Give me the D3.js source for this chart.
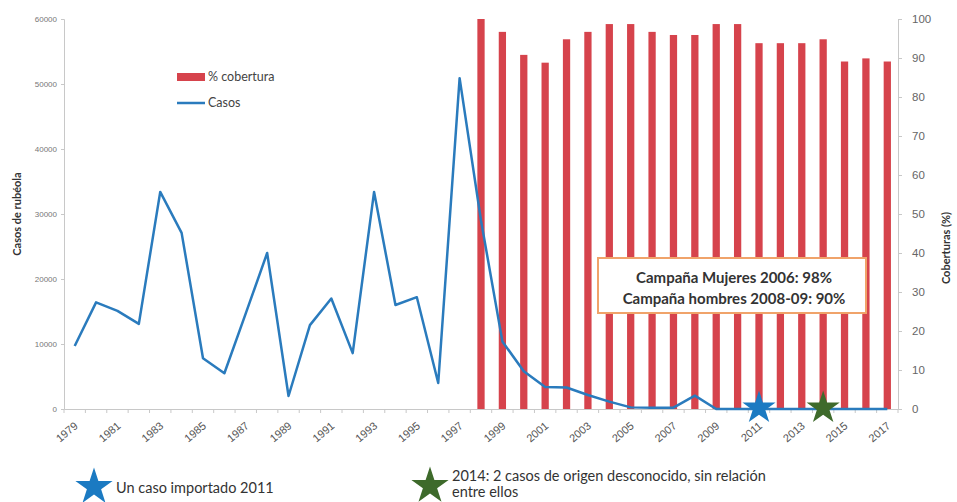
<!DOCTYPE html>
<html>
<head>
<meta charset="utf-8">
<script src="https://cdn.jsdelivr.net/npm/d3@7"></script>
<style>
  body { margin: 0; background: #fff; }
  svg { font-family: Lato, "Open Sans", sans-serif; }
</style>
</head>
<body>
<div id="chart"></div>
<script>
// years on the x axis
const years = d3.range(1979, 2018);
const yearLabels = years.filter(y => y % 2 === 1);

// rubella cases per year (1979-2017)
const cases = [9700, 16400, 15100, 13100, 33400, 27100, 7800, 5500, 14700, 24000,
  2000, 12900, 17000, 8600, 33400, 16000, 17200, 4000, 50900, 29000,
  10400, 5800, 3400, 3300, 2150, 1130, 250, 200, 200, 2050,
  0, 0, 1, 0, 0, 2, 0, 0, 0];

// vaccination coverage (%) 1998-2017
const coverageYears = d3.range(1998, 2018);
const coverage = [100, 96.7, 90.8, 88.8, 94.8, 96.7, 98.7, 98.7, 96.7, 95.9,
  95.9, 98.7, 98.7, 93.8, 93.8, 93.8, 94.8, 89.1, 89.9, 89.1];

const leftTicks = [0, 10000, 20000, 30000, 40000, 50000, 60000];
const rightTicks = [0, 10, 20, 30, 40, 50, 60, 70, 80, 90, 100];

const stars = [
  { year: 2011, color: "#1b7ac2", label: ["Un caso importado 2011"] },
  { year: 2014, color: "#3e6a2b", label: ["2014: 2 casos de origen desconocido, sin relación", "entre ellos"] }
];

const W = 957, H = 502;
const margin = { left: 64, right: 59, top: 19, bottom: 93 };
const innerW = W - margin.left - margin.right;
const innerH = H - margin.top - margin.bottom;

const svg = d3.select("#chart").append("svg")
  .attr("width", W).attr("height", H);

const g = svg.append("g").attr("transform", `translate(${margin.left},${margin.top})`);

const x = d3.scaleBand().domain(years).range([0, innerW]).padding(0);
const yL = d3.scaleLinear().domain([0, 60000]).range([innerH, 0]);
const yR = d3.scaleLinear().domain([0, 100]).range([innerH, 0]);
const cx = d => x(d) + x.bandwidth() / 2;

// left axis
const axL = g.append("g")
  .call(d3.axisLeft(yL).tickValues(leftTicks).tickFormat(d3.format("d")).tickSize(3).tickPadding(4));
axL.select(".domain").attr("stroke", "#c8c8c8");
axL.selectAll(".tick line").attr("stroke", "#c8c8c8");
axL.selectAll("text").attr("fill", "#777").attr("font-size", 8);

// right axis
const axR = g.append("g").attr("transform", `translate(${innerW},0)`)
  .call(d3.axisRight(yR).tickValues(rightTicks).tickSize(4).tickPadding(10));
axR.select(".domain").attr("stroke", "#c8c8c8");
axR.selectAll(".tick line").attr("stroke", "#c8c8c8");
axR.selectAll("text").attr("fill", "#666").attr("font-size", 11.5);

// bars
const barW = x.bandwidth() * 0.34;
g.append("g").selectAll("rect")
  .data(coverageYears.map((yr, i) => ({ yr, v: coverage[i] })))
  .join("rect")
  .attr("x", d => cx(d.yr) - barW / 2)
  .attr("y", d => yR(d.v))
  .attr("width", barW)
  .attr("height", d => innerH - yR(d.v))
  .attr("fill", "#d6434c");

// x axis
const axX = g.append("g").attr("transform", `translate(0,${innerH})`)
  .call(d3.axisBottom(x).tickValues([]).tickSize(0));
axX.select(".domain").attr("stroke", "#c8c8c8");
axX.selectAll("line.yt")
  .data(years.concat([2018]))
  .join("line")
  .attr("class", "yt")
  .attr("x1", (d, i) => i * x.bandwidth()).attr("x2", (d, i) => i * x.bandwidth())
  .attr("y1", 0).attr("y2", 4)
  .attr("stroke", "#c8c8c8");
axX.selectAll("text.yl")
  .data(yearLabels)
  .join("text")
  .attr("class", "yl")
  .attr("transform", d => `translate(${cx(d) + 4},${18}) rotate(-40)`)
  .attr("text-anchor", "end")
  .attr("fill", "#555")
  .attr("font-size", 11)
  .text(d => d);

// cases line
const line = d3.line().x((d, i) => cx(years[i])).y(d => yL(d));
g.append("path")
  .datum(cases)
  .attr("d", line)
  .attr("fill", "none")
  .attr("stroke", "#2a7bbd")
  .attr("stroke-width", 2.5)
  .attr("stroke-linejoin", "round");

// stars on the chart
const starSym = d3.symbol(d3.symbolStar).size(340);
g.selectAll("path.star")
  .data(stars)
  .join("path")
  .attr("class", "star")
  .attr("d", starSym)
  .attr("transform", d => `translate(${cx(d.year)},${yL(cases[years.indexOf(d.year)]) - 1})`)
  .attr("fill", d => d.color);

// axis titles
svg.append("text")
  .attr("transform", "translate(21,214) rotate(-90)")
  .attr("text-anchor", "middle")
  .attr("font-size", 11).attr("font-weight", "bold").attr("fill", "#333")
  .text("Casos de rubéola");
svg.append("text")
  .attr("transform", "translate(950,248) rotate(-90)")
  .attr("text-anchor", "middle")
  .attr("font-size", 11).attr("font-weight", "bold").attr("fill", "#333")
  .text("Coberturas (%)");

// legend
const lg = svg.append("g").attr("transform", "translate(177,0)");
lg.append("rect").attr("x", 0).attr("y", 73).attr("width", 28).attr("height", 8).attr("fill", "#d6434c");
lg.append("text").attr("x", 31).attr("y", 81).attr("font-size", 12.5).attr("fill", "#444").text("% cobertura");
lg.append("line").attr("x1", 0).attr("x2", 28).attr("y1", 103).attr("y2", 103)
  .attr("stroke", "#2a7bbd").attr("stroke-width", 2.5);
lg.append("text").attr("x", 31).attr("y", 107).attr("font-size", 12.5).attr("fill", "#444").text("Casos");

// annotation box
const box = svg.append("g");
box.append("rect").attr("x", 598).attr("y", 258).attr("width", 268).attr("height", 55)
  .attr("fill", "#fff").attr("stroke", "#f0a36a").attr("stroke-width", 2);
box.append("text").attr("x", 734).attr("y", 283).attr("text-anchor", "middle")
  .attr("font-size", 15).attr("font-weight", "bold").attr("fill", "#333")
  .text("Campaña Mujeres 2006: 98%");
box.append("text").attr("x", 734).attr("y", 304).attr("text-anchor", "middle")
  .attr("font-size", 15).attr("font-weight", "bold").attr("fill", "#333")
  .text("Campaña hombres 2008-09: 90%");

// bottom star legend
const bigStar = d3.symbol(d3.symbolStar).size(430);
const sl = svg.selectAll("g.sl")
  .data(stars)
  .join("g")
  .attr("class", "sl")
  .attr("transform", (d, i) => i === 0 ? "translate(94,487)" : "translate(430,486)");
sl.append("path").attr("d", bigStar).attr("fill", d => d.color);
sl.each(function (d) {
  const t = d3.select(this);
  d.label.forEach((s, j) => {
    t.append("text")
      .attr("x", 22)
      .attr("y", d.label.length === 1 ? 6 : -5 + j * 16)
      .attr("font-size", 14.5).attr("fill", "#333")
      .text(s);
  });
});
</script>
</body>
</html>
